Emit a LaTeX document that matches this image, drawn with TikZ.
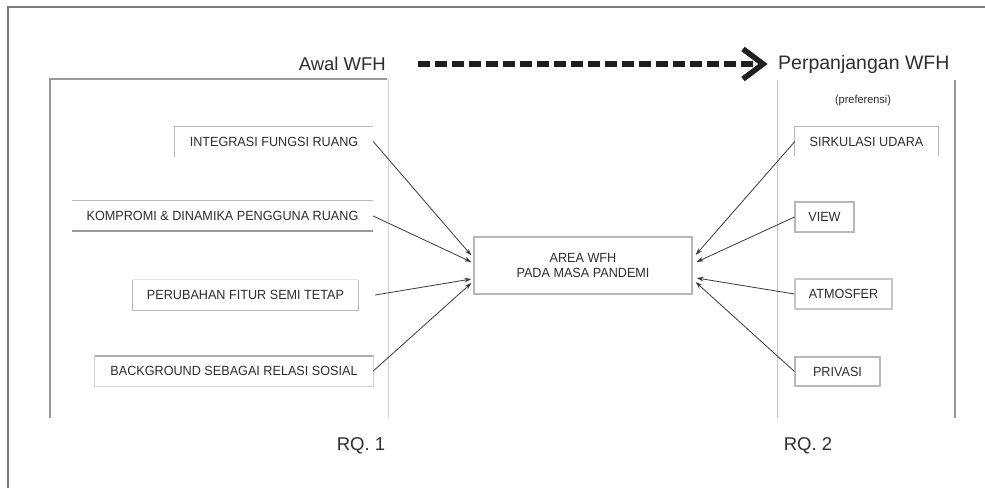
\documentclass[tikz,border=0pt]{standalone}
\usepackage{fontspec}
\setmainfont{Liberation Sans}
\newfontfamily\narrowsans[FakeStretch=0.95]{Liberation Sans}
\usetikzlibrary{arrows.meta}
\definecolor{txt}{HTML}{2E2E2E}
\definecolor{frame}{HTML}{7A7A7A}
\definecolor{lgray}{HTML}{B8B8B8}
\definecolor{mgray}{HTML}{999999}
\definecolor{dgray}{HTML}{3A3A3A}
\begin{document}
\begin{tikzpicture}[x=1pt,y=-1pt,
  lab/.style={inner sep=0pt,text=txt,font=\narrowsans\fontsize{13.3}{15}\selectfont},
  boxn/.style={lab,minimum height=30pt},
  head/.style={inner sep=0pt,text=txt,font=\fontsize{18.5}{21}\selectfont},
  edge/.style={lgray,line width=1.1pt},
  edgedark/.style={mgray,line width=1.6pt},
  conn/.style={dgray,line width=0.8pt,-{Stealth[length=7pt,width=4.5pt]}}]
\useasboundingbox (0,0) rectangle (985,488);
\fill[white] (0,0) rectangle (985,488);
% outer frame
\draw[frame,line width=1.4pt] (8,488) -- (8,7) -- (985,7);
% left panel
\draw[mgray,line width=1.2pt] (49,79) -- (387,79);
\draw[mgray,line width=2pt] (50,79) -- (50,418);
\draw[lgray!60,line width=1pt] (388,79) -- (388,418);
% right panel
\draw[lgray!80,line width=1pt] (777,80) -- (777,418);
\draw[mgray,line width=2pt] (955,80) -- (955,418);
% headings
\node[head,anchor=base east] (awal) at (386,70) {Awal WFH};
\node[head,anchor=base west,font=\fontsize{19.5}{22}\selectfont] (perp) at (778,69) {Perpanjangan WFH};
\coordinate (dstart) at (418,64);
\coordinate (dend) at (763,64);
\draw[black!88,line width=5.5pt,dash pattern=on 12pt off 5pt] (dstart) -- ([xshift=-8pt]dend);
\draw[black!88,line width=5.5pt,miter limit=10] ([shift={(-20,-15)}]dend) -- (dend) -- ([shift={(-20,15)}]dend);
\node[lab,font=\narrowsans\fontsize{11.5}{13}\selectfont] (pref) at (863,101) {(preferensi)};
\node[head] (rq1) at (361,446) {RQ. 1};
\node[head] (rq2) at (808,446) {RQ. 2};
% left boxes
\node[boxn,minimum width=198pt] (b1) at (274,141.5) {INTEGRASI FUNGSI RUANG};
\draw[edge] (b1.south west) -- (b1.north west) -- (b1.north east);
\node[boxn,minimum width=301pt] (b2) at (222.5,216) {KOMPROMI \& DINAMIKA PENGGUNA RUANG};
\draw[edge] (b2.north west) -- (b2.north east);
\draw[edgedark] (b2.south west) -- (b2.south east);
\node[boxn,minimum width=225pt] (b3) at (245.5,295) {PERUBAHAN FITUR SEMI TETAP};
\draw[lgray!40,line width=0.8pt] (b3.north west) -- (b3.north east);
\draw[edge] (b3.north west) -- (b3.south west) -- (b3.south east) -- (b3.north east);
\node[boxn,minimum width=278pt] (b4) at (234,371) {BACKGROUND SEBAGAI RELASI SOSIAL};
\draw[lgray!60,line width=1pt] (b4.north west) rectangle (b4.south east);
\draw[edgedark,mgray!80] (b4.north west) -- (b4.north east);
% centre
\node[lab,draw=lgray,line width=1.2pt,minimum width=218pt,minimum height=57pt,align=center] (c) at (583,265.5) {AREA WFH\\PADA MASA PANDEMI};
% right boxes
\node[boxn,minimum width=143pt,minimum height=29pt] (r1) at (866.5,141.5) {SIRKULASI UDARA};
\draw[edge] (r1.south west) -- (r1.north west) -- (r1.north east) -- (r1.south east);
\node[boxn,minimum width=59pt,draw=lgray,line width=1.1pt] (r2) at (824.5,217) {VIEW};
\node[boxn,minimum width=97pt,draw=lgray!80,line width=1.1pt] (r3) at (843.5,294) {ATMOSFER};
\node[boxn,minimum width=85pt,minimum height=29pt,draw=lgray,line width=1.1pt] (r4) at (837.5,371.5) {PRIVASI};
% connectors
\draw[conn] (b1.east) -- ([yshift=10pt,xshift=-2pt]c.west);
\draw[conn] (b2.east) -- ([yshift=3.5pt,xshift=-2pt]c.west);
\draw[conn] ([xshift=17pt]b3.east) -- ([yshift=-13.5pt,xshift=-2pt]c.west);
\draw[conn] (b4.east) -- ([yshift=-17.5pt,xshift=-2pt]c.west);
\draw[conn] (r1.west) -- ([yshift=10.5pt,xshift=3pt]c.east);
\draw[conn] (r2.west) -- ([yshift=3.5pt,xshift=4pt]c.east);
\draw[conn] (r3.west) -- ([yshift=-12.5pt,xshift=4pt]c.east);
\draw[conn] (r4.west) -- ([yshift=-16.5pt,xshift=3pt]c.east);
\end{tikzpicture}
\end{document}
